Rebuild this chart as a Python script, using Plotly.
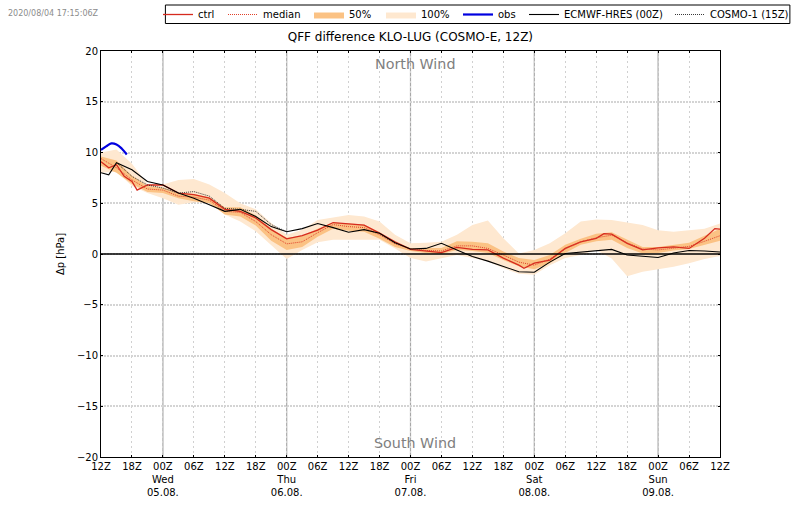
import plotly.graph_objects as go

hours = list(range(0, 121, 3))
ctrl_hours = [0, 1.5, 3, 4.5, 6, 7, 9, 12, 15, 18, 21, 24, 27, 30, 33, 36, 39, 42, 45, 48, 51, 54, 57, 60, 63, 66, 69, 72,
              75, 78, 81, 82, 84, 87, 90, 93, 96, 97.5, 99, 102, 105, 108, 111, 114, 117, 119, 120]
ctrl = [9.1, 8.5, 8.8, 7.65, 7.15, 6.3, 6.8, 6.8, 6.0, 5.85, 5.5, 4.4, 4.2, 3.55, 2.4, 1.5, 1.8, 2.35, 3.1, 3.0, 2.85, 2.05,
        1.2, 0.45, 0.3, 0.13, 0.65, 0.45, 0.4, -0.4, -1.1, -1.4, -0.9, -0.6, 0.55, 1.2, 1.55, 2.0, 1.95, 1.05, 0.4, 0.6,
        0.7, 0.55, 1.55, 2.5, 2.45]
median = [9.4, 8.5, 7.3, 6.4, 6.3, 5.7, 5.6, 5.3, 4.2, 4.1, 3.2, 1.9, 1.0, 1.2, 2.1, 2.9, 2.7, 2.6, 1.9, 1.0, 0.5,
          0.35, 0.3, 0.8, 0.8, 0.55, -0.1, -0.8, -1.1, -0.5, 0.5, 1.2, 1.6, 1.85, 1.1, 0.5, 0.4, 0.55, 0.75, 1.25, 1.8]
q75 = [9.6, 9.2, 7.7, 6.7, 6.5, 6.0, 5.9, 5.6, 4.6, 4.6, 3.8, 2.5, 1.6, 1.8, 2.5, 3.1, 3.0, 2.9, 2.15, 1.2, 0.6,
       0.6, 0.6, 1.25, 1.2, 1.05, 0.25, -0.4, -0.6, -0.1, 0.9, 1.5, 2.0, 2.15, 1.4, 0.7, 0.7, 0.9, 1.1, 1.8, 2.5]
q25 = [8.7, 8.0, 6.9, 6.1, 6.0, 5.5, 5.2, 5.0, 3.9, 3.7, 2.8, 1.3, 0.4, 0.7, 1.7, 2.5, 2.3, 2.2, 1.5, 0.7, 0.3,
       0.1, 0.0, 0.4, 0.3, 0.1, -0.6, -1.2, -1.5, -0.9, 0.1, 0.9, 1.25, 1.4, 0.6, 0.05, 0.1, 0.35, 0.5, 0.9, 1.3]
ens_max = [10.0, 10.3, 8.9, 6.9, 6.85, 7.3, 7.4, 6.85, 6.0, 5.0, 4.4, 3.05, 1.9, 2.4, 3.35, 3.6, 3.85, 3.7, 3.2, 1.9, 1.05,
           1.1, 1.2, 1.9, 2.85, 3.3, 1.55, 0.05, 0.4, 1.05, 2.05, 3.2, 3.4, 3.35, 3.1, 2.85, 2.35, 2.2, 2.35, 2.5, 3.0]
ens_min = [8.0, 8.1, 6.7, 6.0, 5.5, 4.85, 5.1, 5.1, 3.9, 3.2, 2.25, 0.9, -0.5, 0.4, 1.15, 1.4, 1.4, 1.4, 1.4, 0.55, -0.4,
           -0.75, -0.4, -0.1, -0.4, -0.75, -1.4, -1.95, -2.05, -1.1, -0.4, -0.1, 0.4, -0.45, -2.2, -1.75, -1.5, -1.25, -0.9, -0.5, -0.2]
ecmwf_hours = [0, 1.5] + hours[1:]
ecmwf = [8.0, 7.8, 9.0, 8.3, 7.15, 6.8, 6.0, 5.5, 4.85, 4.2, 4.4, 3.7, 2.7, 2.2, 2.5, 3.0, 2.6, 2.15, 2.4, 2.05, 1.1, 0.5,
         0.55, 1.05, 0.4, -0.25, -0.7, -1.2, -1.75, -1.8, -0.8, 0.05, 0.2, 0.35, 0.45, -0.1, -0.2, -0.35, 0.1, 0.35, 0.3, 0.2]
cosmo_hours = list(range(3, 37, 3))
cosmo1 = [9.0, 7.65, 6.8, 6.5, 6.0, 6.15, 5.7, 4.5, 4.4, 4.2, 2.9, 2.2]
obs_hours = [0, 1, 2, 3, 4, 5]
obs = [10.25, 10.6, 10.9, 10.8, 10.4, 9.8]

tick_hours = list(range(0, 121, 6))
tick_labels = ["12Z", "18Z", "00Z<br>Wed<br>05.08.", "06Z", "12Z", "18Z", "00Z<br>Thu<br>06.08.", "06Z", "12Z", "18Z",
               "00Z<br>Fri<br>07.08.", "06Z", "12Z", "18Z", "00Z<br>Sat<br>08.08.", "06Z", "12Z", "18Z",
               "00Z<br>Sun<br>09.08.", "06Z", "12Z"]
midnights = [12, 36, 60, 84, 108]

font = "DejaVu Sans"
fig = go.Figure()

# bands first so the lines stay on top
fig.add_trace(go.Scatter(x=hours, y=ens_max, mode="lines", line=dict(width=0), showlegend=False, hoverinfo="skip"))
fig.add_trace(go.Scatter(x=hours, y=ens_min, mode="lines", line=dict(width=0), fill="tonexty",
                         fillcolor="#fee8d0", name="100%", legend="legend4"))
fig.add_trace(go.Scatter(x=hours, y=q75, mode="lines", line=dict(width=0), showlegend=False, hoverinfo="skip"))
fig.add_trace(go.Scatter(x=hours, y=q25, mode="lines", line=dict(width=0), fill="tonexty",
                         fillcolor="#fbc284", name="50%", legend="legend3"))
fig.add_trace(go.Scatter(x=ctrl_hours, y=ctrl, mode="lines", line=dict(color="#d62a1e", width=1.3), name="ctrl", legend="legend"))
fig.add_trace(go.Scatter(x=hours, y=median, mode="lines", line=dict(color="#e0402a", width=1, dash="1px,1px"),
                         name="median", legend="legend2"))
fig.add_trace(go.Scatter(x=obs_hours, y=obs, mode="lines", line=dict(color="#0000e0", width=2.2, shape="spline"),
                         name="obs", legend="legend5"))
fig.add_trace(go.Scatter(x=ecmwf_hours, y=ecmwf, mode="lines", line=dict(color="black", width=1.1),
                         name="ECMWF-HRES (00Z)", legend="legend6"))
fig.add_trace(go.Scatter(x=cosmo_hours, y=cosmo1, mode="lines", line=dict(color="#222222", width=0.9, dash="1px,1px"),
                         name="COSMO-1 (15Z)", legend="legend7"))

for h in midnights:
    fig.add_vline(x=h, line=dict(color="#a8a8a8", width=1.2), layer="below")
fig.add_hline(y=0, line=dict(color="black", width=1.5))

# one legend per entry, the spacing of the original is uneven. Frame drawn around them
fig.add_shape(type="rect", xref="paper", yref="paper", x0=(165 - 100.5) / 620, x1=(790.5 - 100.5) / 620,
              y0=(457 - 23.5) / 406, y1=(457 - 5) / 406, line=dict(color="black", width=1))
legend_left = {"legend": 158, "legend2": 223, "legend3": 309, "legend4": 381, "legend5": 458, "legend6": 524, "legend7": 670}
for key, left in legend_left.items():
    fig.update_layout({key: dict(orientation="h", x=left / 800, xref="container", y=1.0, yref="container", yanchor="top",
                                 xanchor="left", borderwidth=0, bgcolor="rgba(0,0,0,0)", itemwidth=30,
                                 font=dict(size=10, family=font))})

fig.add_annotation(x=60.8, y=18.7, text="North Wind", showarrow=False, font=dict(size=14.3, color="#808080", family=font))
fig.add_annotation(x=60.8, y=-18.65, text="South Wind", showarrow=False, font=dict(size=14.3, color="#808080", family=font))
fig.add_annotation(xref="paper", yref="paper", x=-0.154, y=1.109, xanchor="left", text="2020/08/04 17:15:06Z",
                   showarrow=False, font=dict(size=8, color="#8c8c8c", family=font))

fig.update_layout(
    width=800, height=509,
    margin=dict(l=100.5, r=79.5, t=51, b=52, autoexpand=False),
    plot_bgcolor="white", paper_bgcolor="white",
    font=dict(family=font, size=10, color="black"),
    title=dict(text="QFF difference KLO-LUG (COSMO-E, 12Z)", x=0.513, xanchor="center", y=0.927, yanchor="middle",
               font=dict(size=12, family=font)),
    showlegend=True,
)
fig.update_xaxes(range=[0, 120], tickvals=tick_hours, ticktext=tick_labels, tickangle=0, showgrid=True,
                 gridcolor="#d0d0d0", griddash="2px,3px", gridwidth=1, zeroline=False, showline=True, linecolor="black",
                 linewidth=1, mirror="ticks", ticks="inside", ticklen=2, tickcolor="black", tickfont=dict(size=10))
fig.update_yaxes(range=[-20, 20], tickvals=[-20, -15, -10, -5, 0, 5, 10, 15, 20], showgrid=True, gridcolor="#d4d4d4",
                 griddash="2px,1px", gridwidth=1.5, zeroline=False, showline=True, linecolor="black", linewidth=1,
                 mirror="ticks", ticks="inside", ticklen=2, tickcolor="black",
                 title=dict(text="Δp [hPa]", standoff=10, font=dict(size=10)), tickfont=dict(size=10))

# page has a default body margin that would push everything 8px off
fig.write_html("out.html", post_script="document.body.style.margin='0';", config={"displayModeBar": False})
